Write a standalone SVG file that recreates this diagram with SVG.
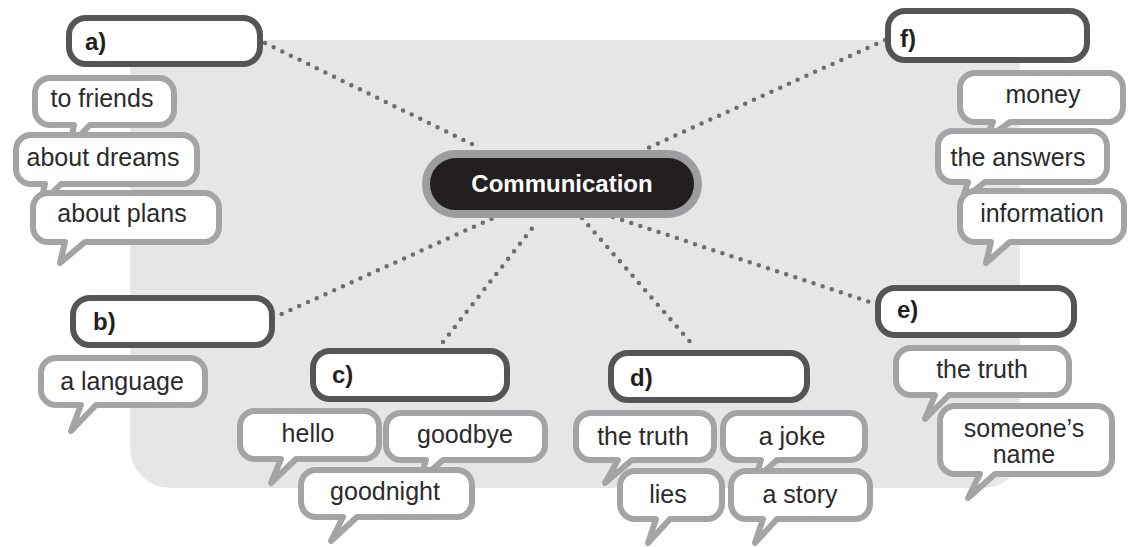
<svg xmlns="http://www.w3.org/2000/svg" width="1129" height="547" viewBox="0 0 1129 547">
<style>
.bg{fill:#e6e6e6}
.box{fill:#fff;stroke:#555557;stroke-width:6}
.bub{fill:#fff;stroke:#a4a4a6;stroke-width:6;stroke-linejoin:round}
.lbl{font-family:"Liberation Sans",Arial,sans-serif;font-weight:bold;font-size:24px;fill:#231f20}
.t{font-family:"Liberation Sans",Arial,sans-serif;font-size:25px;fill:#2b2b2b;text-anchor:middle}
.dot{fill:none;stroke:#6d6e70;stroke-width:4.5;stroke-linecap:round;stroke-dasharray:0 9.6}
</style>
<path class="bg" d="M130,40 H1020 V452 A36,36 0 0 1 984,488 H170 A40,40 0 0 1 130,448 Z"/>
<g id="connectors">
<line class="dot" x1="265" y1="43" x2="480" y2="148"/>
<line class="dot" x1="885" y1="40" x2="648" y2="148"/>
<line class="dot" x1="273" y1="318" x2="493" y2="218"/>
<line class="dot" x1="443" y1="342" x2="537" y2="222"/>
<line class="dot" x1="582" y1="218" x2="693" y2="345"/>
<line class="dot" x1="613" y1="217" x2="873" y2="303"/>
</g>
<g id="center">
<rect x="426" y="154" width="272" height="60" rx="30" fill="#231f20" stroke="#9d9d9f" stroke-width="8"/>
<text x="562" y="192" font-family="Liberation Sans,Arial,sans-serif" font-weight="bold" font-size="24" fill="#fff" text-anchor="middle">Communication</text>
</g>
<g id="node-a">
<rect class="box" x="69" y="18" width="191" height="46" rx="17"/>
<text class="lbl" x="85" y="50">a)</text>
<path class="bub" d="M50,78 H159 A15,15 0 0 1 174,93 V110 A15,15 0 0 1 159,125 H90 L70,145 L74,125 H50 A15,15 0 0 1 35,110 V93 A15,15 0 0 1 50,78 Z"/>
<text class="t" x="102" y="107">to friends</text>
<path class="bub" d="M31,135 H182 A15,15 0 0 1 197,150 V169 A15,15 0 0 1 182,184 H61 L40,205 L45,184 H31 A15,15 0 0 1 16,169 V150 A15,15 0 0 1 31,135 Z"/>
<text class="t" x="103" y="166">about dreams</text>
<path class="bub" d="M48,193 H204 A15,15 0 0 1 219,208 V227 A15,15 0 0 1 204,242 H85 L60,263 L65,242 H48 A15,15 0 0 1 33,227 V208 A15,15 0 0 1 48,193 Z"/>
<text class="t" x="122" y="222">about plans</text>
</g>
<g id="node-b">
<rect class="box" x="73" y="298" width="199" height="47" rx="17"/>
<text class="lbl" x="93" y="330">b)</text>
<path class="bub" d="M56,358 H190 A15,15 0 0 1 205,373 V390 A15,15 0 0 1 190,405 H96 L71,431 L81,405 H56 A15,15 0 0 1 41,390 V373 A15,15 0 0 1 56,358 Z"/>
<text class="t" x="122" y="390">a language</text>
</g>
<g id="node-c">
<rect class="box" x="313" y="351" width="194" height="48" rx="17"/>
<text class="lbl" x="332" y="383">c)</text>
<path class="bub" d="M255,411 H364 A15,15 0 0 1 379,426 V444 A15,15 0 0 1 364,459 H296 L271,483 L281,459 H255 A15,15 0 0 1 240,444 V426 A15,15 0 0 1 255,411 Z"/>
<text class="t" x="308" y="442">hello</text>
<path class="bub" d="M401,413 H530 A15,15 0 0 1 545,428 V445 A15,15 0 0 1 530,460 H443 L420,480 L426,460 H401 A15,15 0 0 1 386,445 V428 A15,15 0 0 1 401,413 Z"/>
<text class="t" x="465" y="443">goodbye</text>
<path class="bub" d="M316,470 H457 A15,15 0 0 1 472,485 V502 A15,15 0 0 1 457,517 H357 L331,541 L343,517 H316 A15,15 0 0 1 301,502 V485 A15,15 0 0 1 316,470 Z"/>
<text class="t" x="385" y="500">goodnight</text>
</g>
<g id="node-d">
<rect class="box" x="611" y="353" width="196" height="47" rx="17"/>
<text class="lbl" x="630" y="386">d)</text>
<path class="bub" d="M591,413 H699 A15,15 0 0 1 714,428 V445 A15,15 0 0 1 699,460 H632 L605,483 L618,460 H591 A15,15 0 0 1 576,445 V428 A15,15 0 0 1 591,413 Z"/>
<text class="t" x="643" y="445">the truth</text>
<path class="bub" d="M738,413 H850 A15,15 0 0 1 865,428 V445 A15,15 0 0 1 850,460 H777 L755,480 L761,460 H738 A15,15 0 0 1 723,445 V428 A15,15 0 0 1 738,413 Z"/>
<text class="t" x="792" y="445">a joke</text>
<path class="bub" d="M635,471 H707 A15,15 0 0 1 722,486 V504 A15,15 0 0 1 707,519 H670 L648,543 L656,519 H635 A15,15 0 0 1 620,504 V486 A15,15 0 0 1 635,471 Z"/>
<text class="t" x="668" y="503">lies</text>
<path class="bub" d="M746,471 H855 A15,15 0 0 1 870,486 V504 A15,15 0 0 1 855,519 H777 L755,543 L763,519 H746 A15,15 0 0 1 731,504 V486 A15,15 0 0 1 746,471 Z"/>
<text class="t" x="800" y="503">a story</text>
</g>
<g id="node-e">
<rect class="box" x="878" y="288" width="196" height="47" rx="17"/>
<text class="lbl" x="897" y="318">e)</text>
<path class="bub" d="M911,348 H1054 A15,15 0 0 1 1069,363 V380 A15,15 0 0 1 1054,395 H949 L925,419 L935,395 H911 A15,15 0 0 1 896,380 V363 A15,15 0 0 1 911,348 Z"/>
<text class="t" x="982" y="378">the truth</text>
<path class="bub" d="M955,406 H1097 A15,15 0 0 1 1112,421 V459 A15,15 0 0 1 1097,474 H995 L968,498 L980,474 H955 A15,15 0 0 1 940,459 V421 A15,15 0 0 1 955,406 Z"/>
<text class="t" x="1024" y="437">someone’s</text>
<text class="t" x="1024" y="463">name</text>
</g>
<g id="node-f">
<rect class="box" x="888" y="11" width="199" height="49" rx="17"/>
<text class="lbl" x="900" y="47">f)</text>
<path class="bub" d="M975,73 H1108 A15,15 0 0 1 1123,88 V107 A15,15 0 0 1 1108,122 H1010 L985,140 L993,122 H975 A15,15 0 0 1 960,107 V88 A15,15 0 0 1 975,73 Z"/>
<text class="t" x="1043" y="103">money</text>
<path class="bub" d="M953,131 H1092 A15,15 0 0 1 1107,146 V167 A15,15 0 0 1 1092,182 H985 L962,200 L968,182 H953 A15,15 0 0 1 938,167 V146 A15,15 0 0 1 953,131 Z"/>
<text class="t" x="1018" y="166">the answers</text>
<path class="bub" d="M975,191 H1109 A15,15 0 0 1 1124,206 V227 A15,15 0 0 1 1109,242 H1010 L986,263 L991,242 H975 A15,15 0 0 1 960,227 V206 A15,15 0 0 1 975,191 Z"/>
<text class="t" x="1042" y="222">information</text>
</g>
</svg>
